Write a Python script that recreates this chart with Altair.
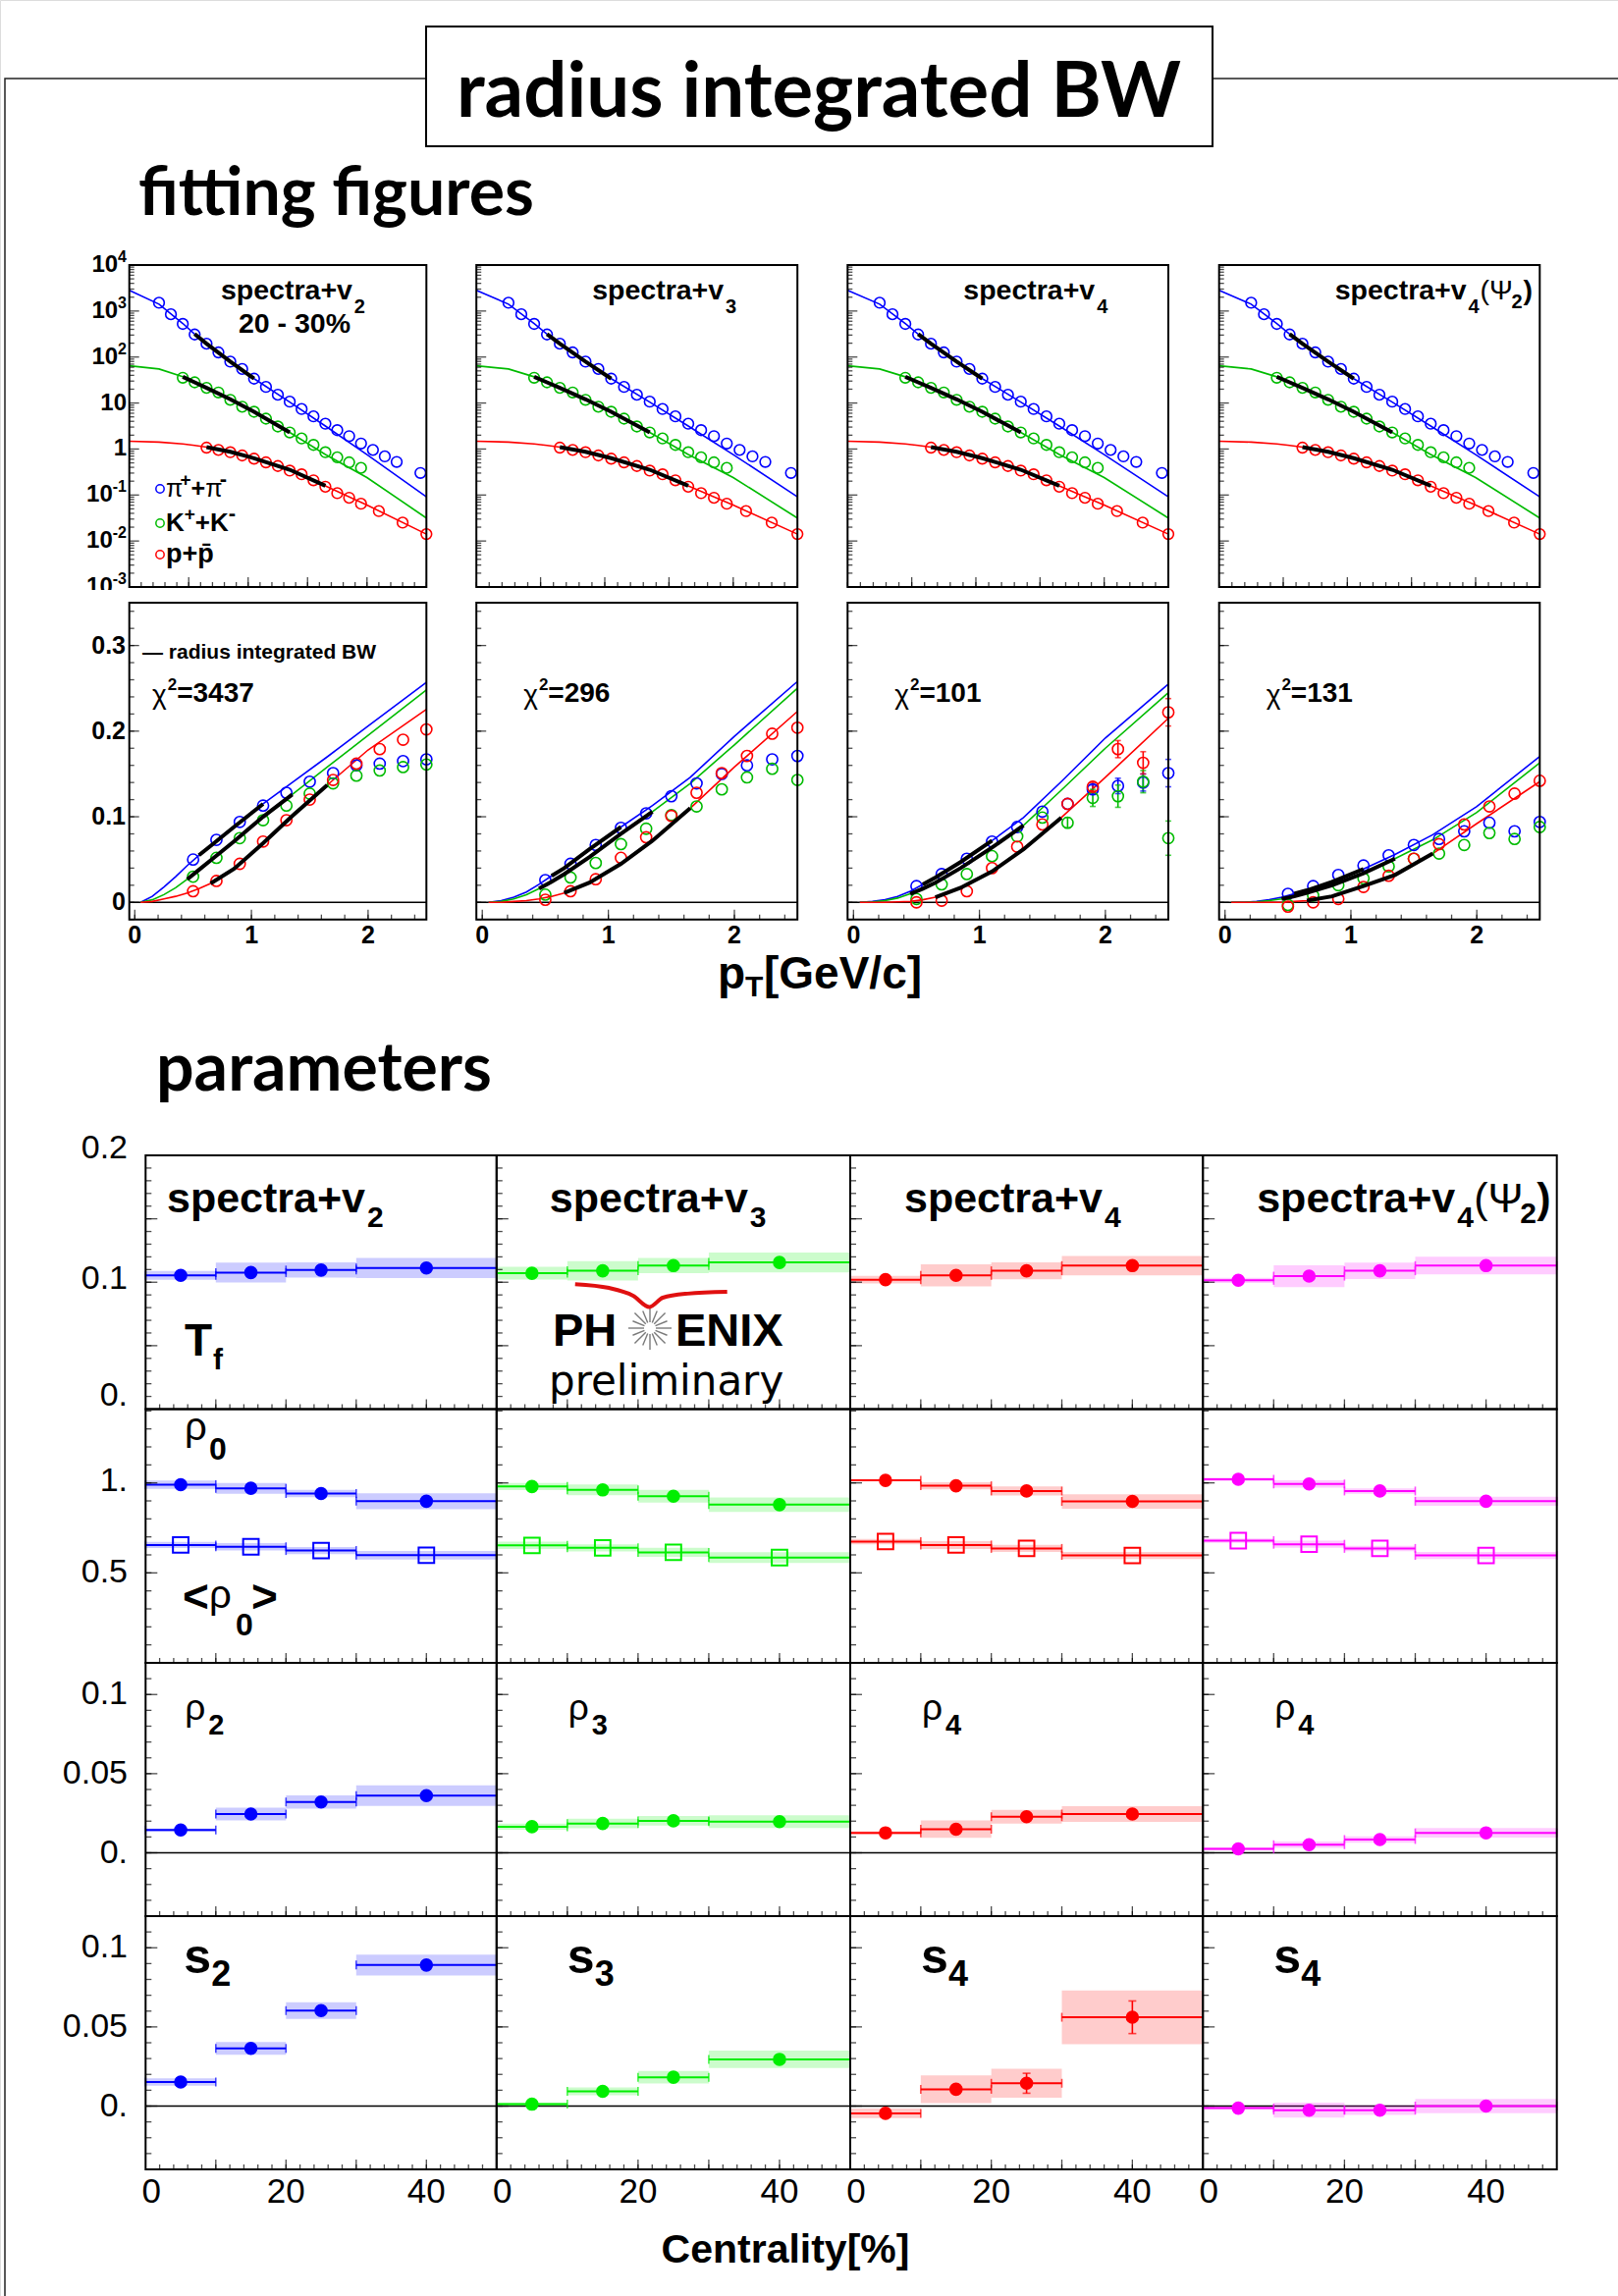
import math
import altair as alt
import pandas as pd

# ===================== DATA : fitting figures =====================
# spectra (upper row), log10 of the yield
PI_SPEC_PT = [0.25, 0.35, 0.45, 0.55, 0.65, 0.75, 0.85, 0.95, 1.05, 1.15, 1.25, 1.35,
              1.45, 1.55, 1.65, 1.75, 1.85, 1.95, 2.05, 2.15, 2.25, 2.45]
PI_SPEC_LOG = [3.18, 2.93, 2.72, 2.49, 2.29, 2.10, 1.90, 1.74, 1.53, 1.35, 1.18, 1.03,
               0.87, 0.71, 0.55, 0.41, 0.28, 0.12, -0.02, -0.16, -0.28, -0.52]
K_SPEC_PT = [0.45, 0.55, 0.65, 0.75, 0.85, 0.95, 1.05, 1.15, 1.25, 1.35, 1.45, 1.55,
             1.65, 1.75, 1.85, 1.95]
K_SPEC_LOG = [1.55, 1.45, 1.33, 1.23, 1.07, 0.92, 0.81, 0.66, 0.49, 0.36, 0.23, 0.09,
              -0.07, -0.18, -0.29, -0.41]
P_SPEC_PT = [0.65, 0.75, 0.85, 0.95, 1.05, 1.15, 1.25, 1.35, 1.45, 1.55, 1.65, 1.75,
             1.85, 1.95, 2.1, 2.3, 2.5]
P_SPEC_LOG = [0.03, -0.02, -0.07, -0.14, -0.21, -0.29, -0.37, -0.47, -0.55, -0.68, -0.82,
              -0.96, -1.06, -1.19, -1.35, -1.60, -1.85]

SPEC_FIT_PT = [0.0, 0.25, 0.45, 0.55, 0.65, 0.85, 1.05, 1.35, 1.65, 2.0, 2.5]
PI_SPEC_FIT_LOG = [3.45, 3.15, 2.73, 2.50, 2.29, 1.90, 1.53, 1.02, 0.50, -0.12, -1.04]
K_SPEC_FIT_LOG = [1.81, 1.74, 1.57, 1.45, 1.33, 1.08, 0.81, 0.36, -0.12, -0.62, -1.50]
P_SPEC_FIT_LOG = [0.17, 0.15, 0.11, 0.08, 0.04, -0.06, -0.20, -0.45, -0.80, -1.22, -1.85]

SPEC_FIT_RANGE = {"pi": (0.55, 1.05), "K": (0.45, 1.35), "p": (0.65, 1.65)}
VN_FIT_RANGE = {"pi": (0.55, 1.1), "K": (0.45, 1.35), "p": (0.65, 1.65)}

# v_n(pT) (lower row)
VN_PT = [0.5, 0.7, 0.9, 1.1, 1.3, 1.5, 1.7, 1.9, 2.1, 2.3, 2.5]
PI_V2 = [0.050, 0.073, 0.094, 0.113, 0.128, 0.141, 0.151, 0.160, 0.162, 0.165, 0.167]
K_V2 = [0.030, 0.052, 0.075, 0.096, 0.113, 0.127, 0.139, 0.148, 0.154, 0.158, 0.161]
P_V2 = [0.013, 0.025, 0.045, 0.071, 0.096, 0.120, 0.143, 0.162, 0.179, 0.190, 0.202]
PI_V3 = [0.026, 0.045, 0.067, 0.087, 0.104, 0.124, 0.139, 0.150, 0.160, 0.167, 0.171]
K_V3 = [0.009, 0.029, 0.046, 0.068, 0.086, 0.102, 0.112, 0.132, 0.146, 0.156, 0.143]
P_V3 = [0.003, 0.013, 0.027, 0.052, 0.076, 0.101, 0.128, 0.151, 0.171, 0.197, 0.204]
PI_V4 = [0.019, 0.033, 0.051, 0.071, 0.088, 0.106, 0.115, 0.132, 0.136, 0.140, 0.151]
K_V4 = [0.004, 0.021, 0.033, 0.054, 0.077, 0.099, 0.093, 0.122, 0.124, 0.141, 0.075]
P_V4 = [0.000, 0.002, 0.013, 0.040, 0.065, 0.091, 0.115, 0.135, 0.179, 0.163, 0.222]
PI_V4_ERR = [0, 0, 0, 0, 0, 0, 0, 0.005, 0.009, 0.010, 0.016]
K_V4_ERR = [0, 0, 0, 0, 0, 0, 0.006, 0.010, 0.013, 0.013, 0.020]
P_V4_ERR = [0, 0, 0, 0, 0, 0, 0, 0.005, 0.010, 0.013, 0.016]
PI_V4P2 = [0.010, 0.019, 0.032, 0.043, 0.055, 0.067, 0.074, 0.083, 0.093, 0.083, 0.094]
K_V4P2 = [-0.003, 0.008, 0.020, 0.028, 0.042, 0.051, 0.057, 0.067, 0.081, 0.074, 0.088]
P_V4P2 = [-0.005, 0.000, 0.004, 0.018, 0.031, 0.051, 0.068, 0.091, 0.112, 0.127, 0.142]
ZERO_ERR = [0] * 11

VN_FIT_PT = [0.05, 0.15, 0.25, 0.35, 0.45, 0.55, 0.65, 0.85, 1.1, 1.35, 1.65, 2.0, 2.5]
PI_V2_FIT = [0, 0.007, 0.018, 0.030, 0.043, 0.055, 0.066, 0.088, 0.115, 0.140, 0.170, 0.206, 0.257]
K_V2_FIT = [0, 0.003, 0.009, 0.017, 0.027, 0.038, 0.049, 0.071, 0.100, 0.126, 0.158, 0.195, 0.248]
P_V2_FIT = [0, 0.001, 0.004, 0.007, 0.011, 0.016, 0.022, 0.039, 0.069, 0.101, 0.137, 0.178, 0.2255]
PI_V3_FIT = [0, 0.002, 0.006, 0.012, 0.021, 0.031, 0.040, 0.062, 0.088, 0.113, 0.146, 0.194, 0.258]
K_V3_FIT = [0, 0.001, 0.004, 0.009, 0.016, 0.024, 0.033, 0.053, 0.080, 0.106, 0.139, 0.184, 0.250]
P_V3_FIT = [0, 0, 0.001, 0.002, 0.004, 0.007, 0.011, 0.023, 0.045, 0.072, 0.110, 0.158, 0.223]
PI_V4_FIT = [0, 0.001, 0.003, 0.007, 0.013, 0.021, 0.029, 0.047, 0.072, 0.099, 0.141, 0.192, 0.255]
K_V4_FIT = [0, 0.0005, 0.002, 0.005, 0.010, 0.016, 0.023, 0.040, 0.064, 0.090, 0.131, 0.180, 0.245]
P_V4_FIT = [0, 0, 0, 0.0005, 0.001, 0.003, 0.006, 0.017, 0.036, 0.062, 0.099, 0.146, 0.215]
PI_V4P2_FIT = [0, 0, 0.001, 0.003, 0.006, 0.010, 0.014, 0.024, 0.039, 0.056, 0.079, 0.112, 0.1705]
K_V4P2_FIT = [0, 0, 0.0005, 0.002, 0.004, 0.007, 0.011, 0.020, 0.034, 0.051, 0.073, 0.105, 0.163]
P_V4P2_FIT = [0, 0, 0, 0, 0, 0.001, 0.002, 0.007, 0.019, 0.032, 0.057, 0.092, 0.141]

CHI2 = ["3437", "296", "101", "131"]
HARMONIC = ["2", "3", "4", "4"]

# ===================== DATA : parameters =====================
CENT = [5, 15, 25, 40]
BIN_LO = [0, 10, 20, 30]
BIN_HI = [10, 20, 30, 50]

TF_V2 = [0.1054, 0.1076, 0.1096, 0.1112]
TF_V2_SYS = [0.0035, 0.0078, 0.0060, 0.0080]
TF_V3 = [0.1071, 0.1090, 0.1131, 0.1156]
TF_V3_SYS = [0.0050, 0.0077, 0.0060, 0.0079]
TF_V4 = [0.1020, 0.1054, 0.1090, 0.1131]
TF_V4_SYS = [0.0030, 0.0087, 0.0066, 0.0076]
TF_V4P2 = [0.1015, 0.1048, 0.1090, 0.1131]
TF_V4P2_SYS = [0.0020, 0.0086, 0.0065, 0.0070]

RHO0_V2 = [0.990, 0.970, 0.941, 0.898]
RHO0_V2_SYS = [0.023, 0.030, 0.020, 0.044]
RHO0_V3 = [0.980, 0.961, 0.926, 0.879]
RHO0_V3_SYS = [0.020, 0.030, 0.035, 0.040]
RHO0_V4 = [1.014, 0.984, 0.955, 0.897]
RHO0_V4_SYS = [0.005, 0.020, 0.025, 0.040]
RHO0_V4P2 = [1.020, 0.994, 0.955, 0.898]
RHO0_V4P2_SYS = [0.010, 0.020, 0.015, 0.025]

MRHO0_V2 = [0.655, 0.645, 0.624, 0.598]
MRHO0_V2_SYS = [0.017, 0.020, 0.020, 0.024]
MRHO0_V3 = [0.653, 0.639, 0.614, 0.585]
MRHO0_V3_SYS = [0.020, 0.020, 0.025, 0.030]
MRHO0_V4 = [0.674, 0.655, 0.636, 0.597]
MRHO0_V4_SYS = [0.015, 0.022, 0.020, 0.020]
MRHO0_V4P2 = [0.679, 0.659, 0.636, 0.597]
MRHO0_V4P2_SYS = [0.012, 0.020, 0.015, 0.020]

RHON_V2 = [0.0144, 0.0245, 0.0321, 0.0361]
RHON_V2_SYS = [0.001, 0.004, 0.0042, 0.0065]
RHON_V3 = [0.0165, 0.0185, 0.0202, 0.0197]
RHON_V3_SYS = [0.002, 0.003, 0.003, 0.004]
RHON_V4 = [0.0126, 0.0149, 0.0228, 0.0245]
RHON_V4_SYS = [0.001, 0.0055, 0.0044, 0.005]
RHON_V4P2 = [0.0025, 0.0051, 0.0084, 0.0126]
RHON_V4P2_SYS = [0.001, 0.002, 0.002, 0.003]

SN_V2 = [0.0152, 0.0364, 0.0603, 0.0891]
SN_V2_SYS = [0.0023, 0.004, 0.0053, 0.0066]
SN_V3 = [0.0012, 0.0093, 0.0182, 0.0295]
SN_V3_SYS = [0.001, 0.0025, 0.004, 0.0055]
SN_V4 = [-0.0046, 0.0106, 0.0144, 0.0561]
SN_V4_SYS = [0.003, 0.0088, 0.0092, 0.017]
SN_V4_STAT = [0, 0, 0.0063, 0.0103]
SN_V4P2 = [-0.0013, -0.0026, -0.0026, 0.0000]
SN_V4P2_SYS = [0.001, 0.0047, 0.003, 0.0045]
NO_STAT = [0, 0, 0, 0]

# axis tick labels
SPEC_Y_LABEL_VALS = [1e4, 1e3, 1e2, 10, 1, 0.1, 0.01, 0.001]
SPEC_Y_LABEL_BASE = ["10", "10", "10", "10", "1", "10", "10", "10"]
SPEC_Y_LABEL_EXP = ["4", "3", "2", "", "", "-1", "-2", "-3"]
VN_Y_LABEL_VALS = [0.0, 0.1, 0.2, 0.3]
VN_Y_LABELS = ["0", "0.1", "0.2", "0.3"]
PT_LABEL_VALS = [0, 1, 2]
PT_LABELS = ["0", "1", "2"]

# ===================== STYLE / LAYOUT =====================
W, H = 1648, 2339
F = "Liberation Sans"
TF_FONT = "Lato"
C_PI, C_K, C_P = "#0000ff", "#00bb00", "#ff0000"
PAR_COLORS = ["#0000ff", "#00ee00", "#ff0000", "#ff00ff"]

FIT_X = [(131.7, 434.3), (485.2, 812.2), (863.3, 1190.0), (1241.7, 1568.3)]
UP_Y = (598.0, 270.0)
LO_Y = (936.7, 614.0)
PAR_X = [(148.3, 505.8), (505.8, 866.0), (866.0, 1225.2), (1225.2, 1585.7)]
PAR_Y = [(1435.5, 1177.0), (1694.0, 1435.5), (1952.0, 1694.0), (2210.0, 1952.0)]
PAR_YDOM = [(0.0, 0.2), (0.0, 1.41), (-0.04, 0.12), (-0.04, 0.12)]

# approximate advance widths (em) of Arial-metric glyphs used for hand-set sub/superscripts
EM = {"π": 0.58, "+": 0.584, "-": 0.333, "K": 0.722, "χ": 0.56, "=": 0.584, "p": 0.611}

ONE = pd.DataFrame({"o": [0]})


def adv(text, size):
    return sum(EM.get(ch, 0.556) for ch in text) * size


def rows(x, y, c, g):
    return pd.DataFrame({"x": list(x), "y": list(y), "c": [c] * len(x), "g": [g] * len(x)})


class Panel:
    def __init__(self, xdom, xrng, ydom, yrng, log=False):
        self.xdom, self.ydom = list(xdom), list(ydom)
        self.xs = alt.Scale(domain=self.xdom, range=list(xrng), nice=False, zero=False)
        if log:
            self.ys = alt.Scale(type="log", domain=self.ydom, range=list(yrng), nice=False)
        else:
            self.ys = alt.Scale(domain=self.ydom, range=list(yrng), nice=False, zero=False)
        self.layers = []

    def X(self, f="x"):
        return alt.X(f"{f}:Q", scale=self.xs, axis=None)

    def Y(self, f="y"):
        return alt.Y(f"{f}:Q", scale=self.ys, axis=None)

    def add(self, ch):
        self.layers.append(ch)

    def xticks(self, vals, size):
        df = pd.DataFrame({"x": list(vals), "y": [self.ydom[0]] * len(vals)})
        self.add(alt.Chart(df).mark_tick(orient="vertical", size=size, thickness=1.3, color="black",
                                         yOffset=-size / 2).encode(x=self.X(), y=self.Y()))

    def yticks(self, vals, size):
        df = pd.DataFrame({"x": [self.xdom[0]] * len(vals), "y": list(vals)})
        self.add(alt.Chart(df).mark_tick(orient="horizontal", size=size, thickness=1.3, color="black",
                                         xOffset=size / 2).encode(x=self.X(), y=self.Y()))

    def hline(self, yv, width=1.3):
        df = pd.DataFrame({"x": [self.xdom[0]], "x2": [self.xdom[1]], "y": [yv]})
        self.add(alt.Chart(df).mark_rule(color="black", strokeWidth=width).encode(
            x=self.X(), x2=alt.X2("x2:Q"), y=self.Y()))

    def frame(self, width=2.0):
        df = pd.DataFrame({"x": [self.xdom[0]], "x2": [self.xdom[1]],
                           "y": [self.ydom[0]], "y2": [self.ydom[1]]})
        self.add(alt.Chart(df).mark_rect(fill="white", fillOpacity=0, stroke="black", strokeWidth=width).encode(
            x=self.X(), x2=alt.X2("x2:Q"), y=self.Y(), y2=alt.Y2("y2:Q")))

    def ylabel(self, v, text, xpix, size, weight="bold", dy=0, align="right", font=F):
        df = pd.DataFrame({"v": [v], "t": [text]})
        self.add(alt.Chart(df).mark_text(font=font, fontSize=size, fontWeight=weight, align=align,
                                         baseline="middle", color="black", dy=dy).encode(
            y=self.Y("v"), x=alt.value(xpix), text="t:N"))

    def xlabels(self, vals, texts, ypix, size, weight="bold", font=F, dx=0):
        df = pd.DataFrame({"v": list(vals), "t": list(texts)})
        self.add(alt.Chart(df).mark_text(font=font, fontSize=size, fontWeight=weight, align="center",
                                         baseline="middle", color="black", dx=dx).encode(
            x=self.X("v"), y=alt.value(ypix), text="t:N"))

    def chart(self):
        return alt.layer(*self.layers)


def label(text, x, y, size, weight="bold", align="left", baseline="middle", font=F, color="black"):
    return alt.Chart(ONE).mark_text(text=text, font=font, fontSize=size, fontWeight=weight, align=align,
                                    baseline=baseline, color=color).encode(x=alt.value(x), y=alt.value(y))


def rich(parts, x, y):
    """parts: (text, size, weight, dy) placed one after another from x"""
    out = []
    for text, size, weight, dy in parts:
        out.append(label(text, x, y + dy, size, weight=weight))
        x += adv(text, size)
    return out


def box(x0, x1, y0, y1, fill="white", fill_opacity=1.0, stroke="black", sw=0.0):
    return alt.Chart(ONE).mark_rect(fill=fill, fillOpacity=fill_opacity, stroke=stroke, strokeWidth=sw).encode(
        x=alt.value(x0), x2=alt.value(x1), y=alt.value(y0), y2=alt.value(y1))


def frange(a, b, step):
    out, v = [], a
    while v <= b + 1e-9:
        out.append(round(v, 6))
        v += step
    return out


# ---------------------------------------------------------------
def upper_panel(i):
    P = Panel((0.0, 2.5), FIT_X[i], (1e-3, 1e4), UP_Y, log=True)
    pw = lambda a: [10 ** v for v in a]
    curves = pd.concat([rows(SPEC_FIT_PT, pw(PI_SPEC_FIT_LOG), C_PI, "pi"),
                        rows(SPEC_FIT_PT, pw(K_SPEC_FIT_LOG), C_K, "K"),
                        rows(SPEC_FIT_PT, pw(P_SPEC_FIT_LOG), C_P, "p")], ignore_index=True)
    pts = pd.concat([rows(PI_SPEC_PT, pw(PI_SPEC_LOG), C_PI, "pi"),
                     rows(K_SPEC_PT, pw(K_SPEC_LOG), C_K, "K"),
                     rows(P_SPEC_PT, pw(P_SPEC_LOG), C_P, "p")], ignore_index=True)
    blk = pd.concat([curves[(curves.g == g) & (curves.x >= lo - 1e-9) & (curves.x <= hi + 1e-9)]
                     for g, (lo, hi) in SPEC_FIT_RANGE.items()], ignore_index=True)
    P.add(alt.Chart(curves).mark_line(strokeWidth=1.6).encode(
        x=P.X(), y=P.Y(), color=alt.Color("c:N", scale=None), detail="g:N"))
    P.add(alt.Chart(pts).mark_point(shape="circle", filled=False, size=115, strokeWidth=1.6, opacity=1).encode(
        x=P.X(), y=P.Y(), color=alt.Color("c:N", scale=None)))
    P.add(alt.Chart(blk).mark_line(strokeWidth=4, color="black").encode(x=P.X(), y=P.Y(), detail="g:N"))
    P.xticks(frange(0.0, 2.5, 0.1), 5)
    P.xticks([0.5, 1.0, 1.5, 2.0], 10)
    P.yticks([k * 10.0 ** n for n in range(-3, 4) for k in range(2, 10)], 5)
    P.yticks([10.0 ** n for n in range(-3, 5)], 10)
    if i == 0:
        for v, base, ex in zip(SPEC_Y_LABEL_VALS, SPEC_Y_LABEL_BASE, SPEC_Y_LABEL_EXP):
            if ex:
                P.ylabel(v, ex, 129, 16, dy=-8)
                P.ylabel(v, base, 129 - adv(ex, 16), 24)
            else:
                P.ylabel(v, base, 129, 24)
    P.frame(2)
    return P.chart()


VN_SETS = [
    (PI_V2, K_V2, P_V2, ZERO_ERR, ZERO_ERR, ZERO_ERR, PI_V2_FIT, K_V2_FIT, P_V2_FIT),
    (PI_V3, K_V3, P_V3, ZERO_ERR, ZERO_ERR, ZERO_ERR, PI_V3_FIT, K_V3_FIT, P_V3_FIT),
    (PI_V4, K_V4, P_V4, PI_V4_ERR, K_V4_ERR, P_V4_ERR, PI_V4_FIT, K_V4_FIT, P_V4_FIT),
    (PI_V4P2, K_V4P2, P_V4P2, ZERO_ERR, ZERO_ERR, ZERO_ERR, PI_V4P2_FIT, K_V4P2_FIT, P_V4P2_FIT),
]


def lower_panel(i):
    P = Panel((-0.047, 2.5), FIT_X[i], (-0.02, 0.35), LO_Y)
    pi, k, p, epi, ek, ep, fpi, fk, fp = VN_SETS[i]
    P.hline(0.0, 1.3)
    curves = pd.concat([rows(VN_FIT_PT, fpi, C_PI, "pi"), rows(VN_FIT_PT, fk, C_K, "K"),
                        rows(VN_FIT_PT, fp, C_P, "p")], ignore_index=True)
    pts = pd.concat([rows(VN_PT, pi, C_PI, "pi"), rows(VN_PT, k, C_K, "K"),
                     rows(VN_PT, p, C_P, "p")], ignore_index=True)
    pts["e"] = list(epi) + list(ek) + list(ep)
    pts["e1"] = pts.y - pts.e
    pts["e2"] = pts.y + pts.e
    blk = pd.concat([curves[(curves.g == g) & (curves.x >= lo - 1e-9) & (curves.x <= hi + 1e-9)]
                     for g, (lo, hi) in VN_FIT_RANGE.items()], ignore_index=True)
    P.add(alt.Chart(curves).mark_line(strokeWidth=1.6).encode(
        x=P.X(), y=P.Y(), color=alt.Color("c:N", scale=None), detail="g:N"))
    err = pts[pts.e > 0]
    if len(err):
        P.add(alt.Chart(err).mark_rule(strokeWidth=1.6).encode(
            x=P.X(), y=P.Y("e1"), y2=alt.Y2("e2:Q"), color=alt.Color("c:N", scale=None)))
        P.add(alt.Chart(err).transform_fold(["e1", "e2"], as_=["k", "ye"]).mark_tick(
            orient="horizontal", size=6, thickness=1.6).encode(
            x=P.X(), y=P.Y("ye"), color=alt.Color("c:N", scale=None)))
    P.add(alt.Chart(pts).mark_point(shape="circle", filled=False, size=125, strokeWidth=1.6, opacity=1).encode(
        x=P.X(), y=P.Y(), color=alt.Color("c:N", scale=None)))
    P.add(alt.Chart(blk).mark_line(strokeWidth=4, color="black").encode(x=P.X(), y=P.Y(), detail="g:N"))
    P.xticks(frange(0.0, 2.4, 0.2), 5)
    P.xticks([0.0, 1.0, 2.0], 10)
    P.yticks(frange(-0.02, 0.34, 0.02), 5)
    P.yticks([0.0, 0.1, 0.2, 0.3], 10)
    if i == 0:
        for v, t in zip(VN_Y_LABEL_VALS, VN_Y_LABELS):
            P.ylabel(v, t, 128, 25)
    P.xlabels(PT_LABEL_VALS, PT_LABELS, 953, 25)
    P.frame(2)
    return P.chart()


PAR_SERIES = {
    (0, 0): [(TF_V2, TF_V2_SYS, NO_STAT, "circle")],
    (1, 0): [(TF_V3, TF_V3_SYS, NO_STAT, "circle")],
    (2, 0): [(TF_V4, TF_V4_SYS, NO_STAT, "circle")],
    (3, 0): [(TF_V4P2, TF_V4P2_SYS, NO_STAT, "circle")],
    (0, 1): [(RHO0_V2, RHO0_V2_SYS, NO_STAT, "circle"), (MRHO0_V2, MRHO0_V2_SYS, NO_STAT, "square")],
    (1, 1): [(RHO0_V3, RHO0_V3_SYS, NO_STAT, "circle"), (MRHO0_V3, MRHO0_V3_SYS, NO_STAT, "square")],
    (2, 1): [(RHO0_V4, RHO0_V4_SYS, NO_STAT, "circle"), (MRHO0_V4, MRHO0_V4_SYS, NO_STAT, "square")],
    (3, 1): [(RHO0_V4P2, RHO0_V4P2_SYS, NO_STAT, "circle"), (MRHO0_V4P2, MRHO0_V4P2_SYS, NO_STAT, "square")],
    (0, 2): [(RHON_V2, RHON_V2_SYS, NO_STAT, "circle")],
    (1, 2): [(RHON_V3, RHON_V3_SYS, NO_STAT, "circle")],
    (2, 2): [(RHON_V4, RHON_V4_SYS, NO_STAT, "circle")],
    (3, 2): [(RHON_V4P2, RHON_V4P2_SYS, NO_STAT, "circle")],
    (0, 3): [(SN_V2, SN_V2_SYS, NO_STAT, "circle")],
    (1, 3): [(SN_V3, SN_V3_SYS, NO_STAT, "circle")],
    (2, 3): [(SN_V4, SN_V4_SYS, SN_V4_STAT, "circle")],
    (3, 3): [(SN_V4P2, SN_V4P2_SYS, NO_STAT, "circle")],
}

PAR_YTICKS = [
    (frange(0.01, 0.19, 0.01), [0.05, 0.1, 0.15]),
    (frange(0.1, 1.4, 0.1), [0.5, 1.0]),
    (frange(-0.03, 0.11, 0.01), [0.0, 0.05, 0.1]),
    (frange(-0.03, 0.11, 0.01), [0.0, 0.05, 0.1]),
]
PAR_YLABELS = [
    [(0.2, "0.2", -7), (0.1, "0.1", -3), (0.0, "0.", -14)],
    [(1.0, "1.", -2), (0.5, "0.5", 0)],
    [(0.1, "0.1", 0), (0.05, "0.05", 0), (0.0, "0.", 0)],
    [(0.1, "0.1", 0), (0.05, "0.05", 0), (0.0, "0.", 0)],
]


def param_panel(ci, ri):
    P = Panel((0, 50), PAR_X[ci], PAR_YDOM[ri], PAR_Y[ri])
    color = PAR_COLORS[ci]
    if ri >= 2:
        P.hline(0.0, 1.5)
    dfs = []
    for vals, sys, stat, kind in PAR_SERIES[(ci, ri)]:
        df = pd.DataFrame({"x": CENT, "lo": BIN_LO, "hi": BIN_HI, "y": vals,
                           "b1": [v - s for v, s in zip(vals, sys)],
                           "b2": [v + s for v, s in zip(vals, sys)],
                           "e": stat,
                           "e1": [v - e for v, e in zip(vals, stat)],
                           "e2": [v + e for v, e in zip(vals, stat)]})
        dfs.append((df, kind))
    for df, kind in dfs:
        P.add(alt.Chart(df).mark_rect(color=color, opacity=0.2, strokeWidth=0).encode(
            x=P.X("lo"), x2=alt.X2("hi:Q"), y=P.Y("b1"), y2=alt.Y2("b2:Q")))
    for df, kind in dfs:
        P.add(alt.Chart(df).mark_rule(color=color, strokeWidth=2).encode(
            x=P.X("lo"), x2=alt.X2("hi:Q"), y=P.Y("y")))
        P.add(alt.Chart(df).transform_fold(["lo", "hi"], as_=["k", "xe"]).mark_tick(
            orient="vertical", size=9, thickness=1.6, color=color).encode(x=P.X("xe"), y=P.Y("y")))
        sdf = df[df.e > 0]
        if len(sdf):
            P.add(alt.Chart(sdf).mark_rule(color=color, strokeWidth=1.6).encode(
                x=P.X("x"), y=P.Y("e1"), y2=alt.Y2("e2:Q")))
            P.add(alt.Chart(sdf).transform_fold(["e1", "e2"], as_=["k", "ye"]).mark_tick(
                orient="horizontal", size=8, thickness=1.6, color=color).encode(x=P.X("x"), y=P.Y("ye")))
        if kind == "circle":
            P.add(alt.Chart(df).mark_point(shape="circle", filled=True, size=185, color=color, opacity=1).encode(
                x=P.X("x"), y=P.Y("y")))
        else:
            P.add(alt.Chart(df).mark_point(shape="square", filled=False, size=250, strokeWidth=2,
                                           color=color, opacity=1).encode(x=P.X("x"), y=P.Y("y")))
    P.xticks(frange(2, 48, 2), 5)
    P.xticks([10, 20, 30, 40], 10)
    minor, major = PAR_YTICKS[ri]
    P.yticks(minor, 6)
    P.yticks(major, 12)
    if ci == 0:
        for v, t, dy in PAR_YLABELS[ri]:
            P.ylabel(v, t, 130, 34, weight="normal", dy=dy)
    if ri == 3:
        P.xlabels([0], ["0"], 2233, 35, weight="normal", dx=6)
        P.xlabels([20, 40], ["20", "40"], 2233, 35, weight="normal")
    P.frame(2)
    return P.chart()


# ===================== ASSEMBLY =====================
layers = []
# page frame
layers.append(box(5, 1700, 80, 2400, fill="white", fill_opacity=0, stroke="#222222", sw=1.5))

for i in range(4):
    layers.append(upper_panel(i))
# the lowest log label is cut by the lower pad
layers.append(box(50, 130, 601, 612, fill="white"))
for i in range(4):
    layers.append(lower_panel(i))
for ri in range(4):
    for ci in range(4):
        layers.append(param_panel(ci, ri))

# ---- section titles
layers.append(box(434, 1235, 27, 149, fill="white", stroke="black", sw=2))
layers.append(label("radius integrated BW", 834, 119, 78, font=TF_FONT, align="center", baseline="alphabetic"))
layers.append(label("fitting figures", 141, 219, 68, font=TF_FONT, baseline="alphabetic"))
layers.append(label("parameters", 159, 1111, 68, font=TF_FONT, baseline="alphabetic"))

# ---- upper panel titles
SUB_W = 4.697  # advance of "spectra+v" in em (Arial bold metrics)
for i in range(4):
    x0 = FIT_X[i][0]
    lx = 225 if i == 0 else x0 + 118
    layers.append(label("spectra+v", lx, 296, 28.5))
    sx = lx + SUB_W * 28.5 + 2
    layers.append(label(HARMONIC[i], sx, 313, 20))
    if i == 3:
        layers.append(label("(Ψ", sx + 12, 296, 28.5, weight="normal"))
        layers.append(label("2", sx + 44, 308, 20))
        layers.append(label(")", sx + 56, 296, 28.5))
layers.append(label("20 - 30%", 300, 330, 28.5, align="center"))

# legend in first spectra panel
LEG_Y = [498, 533, 565]
LEG_C = [C_PI, C_K, C_P]
for y, c in zip(LEG_Y, LEG_C):
    layers.append(alt.Chart(ONE).mark_point(shape="circle", filled=False, size=70, strokeWidth=1.5,
                                            color=c, opacity=1).encode(x=alt.value(163), y=alt.value(y)))
layers += rich([("π", 25, "normal", 0), ("+", 19, "bold", -9), ("+", 25, "bold", 0),
                ("π", 25, "normal", 0), ("-", 22, "bold", -10)], 169, LEG_Y[0])
layers += rich([("K", 26, "bold", 0), ("+", 19, "bold", -9), ("+", 26, "bold", 0),
                ("K", 26, "bold", 0), ("-", 22, "bold", -10)], 169, LEG_Y[1])
layers.append(label("p+p̄", 169, LEG_Y[2], 27))

# lower panel annotations
layers.append(label("— radius integrated BW", 145, 665, 21))
for i in range(4):
    x0 = FIT_X[i][0]
    lx = 155 if i == 0 else x0 + 48
    layers += rich([("χ", 28, "normal", 2), ("2", 17, "bold", -9), ("=" + CHI2[i], 28, "bold", 0)], lx, 707)

# pT axis title
layers.append(label("p", 731, 993, 46))
layers.append(label("T", 759, 1006, 30))
layers.append(label("[GeV/c]", 778, 993, 46))

# ---- parameter column headers
HEAD_OFF = [21.7, 54, 55, 55]
for ci in range(4):
    lx = PAR_X[ci][0] + HEAD_OFF[ci]
    layers.append(label("spectra+v", lx, 1222, 43))
    sx = lx + SUB_W * 43 + 2
    layers.append(label(HARMONIC[ci], sx, 1241, 30))
    if ci == 3:
        layers.append(label("(Ψ", sx + 17, 1222, 43, weight="normal"))
        layers.append(label("2", sx + 64, 1237, 30))
        layers.append(label(")", sx + 81, 1222, 43))

# row labels
layers.append(label("T", 188, 1367, 46))
layers.append(label("f", 217, 1386, 30))
layers.append(label("ρ", 188, 1455, 40, weight="normal"))
layers.append(label("0", 213, 1477, 32))
layers.append(label("<", 186, 1628, 46))
layers.append(label("ρ", 213, 1626, 40, weight="normal"))
layers.append(label("0", 240, 1656, 32))
layers.append(label(">", 256, 1628, 46))
for ci in range(4):
    off = 40 if ci == 0 else 73
    lx = PAR_X[ci][0] + off
    layers.append(label("ρ", lx, 1741, 37, weight="normal"))
    layers.append(label(HARMONIC[ci], lx + 24, 1758, 29))
    layers.append(label("s", lx - 1, 1995, 50))
    layers.append(label(HARMONIC[ci], lx + 27, 2012, 36))

# PHENIX preliminary logo
layers.append(label("PH", 563, 1371, 47, baseline="alphabetic"))
layers.append(label("ENIX", 688, 1371, 47, baseline="alphabetic"))
layers.append(label("preliminary", 559, 1421, 42, weight="normal", baseline="alphabetic", font="DejaVu Sans"))
STAR_C = (662.0, 1353.0)
spokes = pd.DataFrame({
    "x": [STAR_C[0] + 6 * math.cos(a * math.pi / 8) for a in range(16)],
    "y": [STAR_C[1] + 6 * math.sin(a * math.pi / 8) for a in range(16)],
    "x2": [STAR_C[0] + (19 if a % 2 else 22) * math.cos(a * math.pi / 8) for a in range(16)],
    "y2": [STAR_C[1] + (19 if a % 2 else 22) * math.sin(a * math.pi / 8) for a in range(16)],
})
layers.append(alt.Chart(spokes).mark_rule(color="#7a7a7a", strokeWidth=1.4).encode(
    x=alt.X("x:Q", scale=None), y=alt.Y("y:Q", scale=None),
    x2=alt.X2("x2:Q"), y2=alt.Y2("y2:Q")))
SWOOSH_X = [11.1, 15.9, 19.3, 21.6, 23.5, 27.0, 32.6]
SWOOSH_Y = [0.0985, 0.0955, 0.0894, 0.0805, 0.0878, 0.0910, 0.0925]
PL = Panel((0, 50), PAR_X[1], PAR_YDOM[0], PAR_Y[0])
layers.append(alt.Chart(pd.DataFrame({"x": SWOOSH_X, "y": SWOOSH_Y})).mark_line(
    color="#e01010", strokeWidth=4, interpolate="monotone").encode(x=PL.X(), y=PL.Y()))

# Centrality title
layers.append(label("Centrality[%]", 800, 2293, 41, align="center"))

chart = alt.layer(*layers).resolve_scale(x="independent", y="independent").properties(
    width=W, height=H, autosize=alt.AutoSizeParams(type="none"), padding=0
).configure_view(strokeWidth=0).configure(background="white")

chart.save("out.html", embed_options={"renderer": "svg", "actions": False})
